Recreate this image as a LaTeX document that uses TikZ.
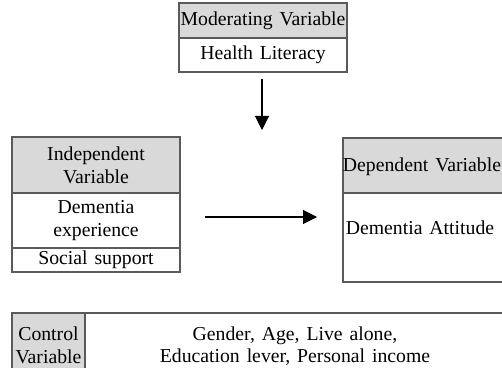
\documentclass[tikz,border=0pt]{standalone}
\usepackage{fontspec}
\setmainfont[WordSpace=1.4]{Liberation Serif}
\usetikzlibrary{arrows.meta}
\definecolor{hdr}{HTML}{D9D9D9}
\definecolor{brd}{HTML}{5A5A5A}
\tikzset{
  cell/.style={draw=brd, line width=0.8pt, inner sep=0pt, align=center, font=\fontsize{14.8}{17}\selectfont},
  hcell/.style={cell, fill=hdr},
  txt/.style={inner sep=0pt, align=center, font=\fontsize{14.8}{17}\selectfont},
  arr/.style={line width=0.8pt, -{Triangle[length=10.5pt,width=10.5pt]}}
}
\begin{document}
\begin{tikzpicture}[x=0.75pt,y=-0.75pt]
\useasboundingbox (0,0) rectangle (502,367);
\clip (0,0) rectangle (502,367);
% Moderating
\node[hcell, minimum width=126pt, minimum height=26.25pt] (modh) at (263,20.5) {Moderating Variable};
\node[cell, minimum width=126pt, minimum height=25.5pt] (modb) at (263,55) {Health Literacy};
% Independent
\node[hcell, minimum width=126pt, minimum height=42pt] (indh) at (96,165) {Independent\\Variable};
\node[cell, minimum width=126pt, minimum height=41.25pt] (indm) at (96,220.5) {Dementia\\experience};
\node[cell, minimum width=126pt, minimum height=18pt] (indb) at (96,260) {Social support};
% Dependent
\node[hcell, minimum width=122.25pt, minimum height=41.25pt] (deph) at (424.5,165.5) {};
\node[cell, minimum width=122.25pt, minimum height=66.75pt] (depb) at (424.5,237.5) {};
\node[txt] (depht) at (422,167) {Dependent Variable};
\node[txt] (depbt) at (420,228) {Dementia Attitude};
% Control
\node[hcell, minimum width=54.75pt, minimum height=45pt] (ctlh) at (48.5,343) {};
\node[cell, minimum width=322.5pt, minimum height=45pt] (ctlb) at (300,343) {};
\node[txt] (ctlht) at (48.5,345) {Control\\Variable};
\node[txt] (ctlbt) at (295,346) {Gender, Age, Live alone,\\Education lever, Personal income};
% arrows
\coordinate (va) at (262,79);
\coordinate (vb) at (262,130);
\coordinate (ha) at (205,217);
\coordinate (hb) at (317,217);
\draw[arr] (va) -- (vb);
\draw[arr] (ha) -- (hb);
\end{tikzpicture}
\end{document}
